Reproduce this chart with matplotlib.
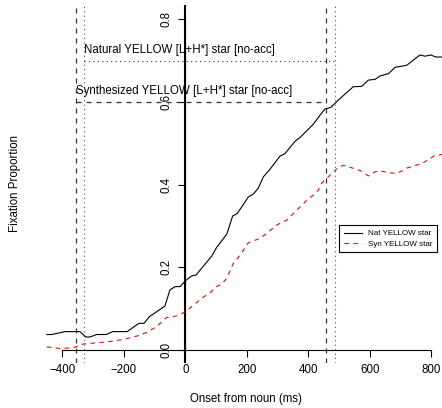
import matplotlib
matplotlib.use("Agg")
import matplotlib.pyplot as plt
from matplotlib.lines import Line2D

plt.rcParams['font.family'] = ['Liberation Sans', 'DejaVu Sans']

# ---- data ----
nat_x = [-450, -434, -391, -342, -324, -310, -288, -256, -236, -189, -151, -134, -117,
         -66, -50, -33, -17, 0, 21, 35, 86, 102, 135, 154, 169, 205, 221, 237, 254, 273,
         308, 324, 357, 373, 416, 438, 454, 473, 498, 546, 574, 595, 617, 633, 661, 682,
         720, 763, 780, 798, 815, 850]
nat_y = [.037, .037, .044, .044, .031, .031, .037, .037, .044, .044, .064, .064, .080,
         .106, .145, .153, .153, .167, .179, .181, .227, .248, .280, .324, .330, .370, .377,
         .391, .419, .435, .469, .475, .505, .514, .546, .568, .583, .587, .605, .637, .638,
         .653, .655, .663, .669, .684, .689, .714, .711, .714, .709, .709]

syn_x = [-450, -407, -364, -332, -256, -202, -158, -126, -93, -61, -39, -17, 4, 59, 80, 97,
         118, 135, 156, 178, 205, 243, 265, 297, 330, 362, 395, 417, 433, 443, 460, 476,
         494, 514, 536, 557, 579, 595, 617, 636, 660, 688, 704, 720, 747, 769, 790, 812, 850]
syn_y = [.007, .003, .005, .014, .019, .025, .033, .042, .056, .078, .080, .085, .094, .128,
         .137, .151, .159, .173, .209, .229, .259, .270, .282, .302, .314, .338, .362, .375,
         .387, .403, .415, .427, .439, .447, .442, .437, .431, .421, .431, .433, .429, .427,
         .433, .440, .446, .451, .460, .471, .474]

series_labels = ["Nat YELLOW star", "Syn YELLOW star"]

# reference marks (onset/offset windows and target levels)
nat_window = [-329, 488]
syn_window = [-355, 457]
nat_level = 0.70
syn_level = 0.60
nat_text = "Natural YELLOW [L+H*] star [no-acc]"
syn_text = "Synthesized YELLOW [L+H*] star [no-acc]"

xticks = [-400, -200, 0, 200, 400, 600, 800]
yticks = [0.0, 0.2, 0.4, 0.6, 0.8]

# ---- figure ----
W, H = 442, 408
fig = plt.figure(figsize=(W / 100, H / 100), dpi=100)
left_px, right_px, top_px, bot_px = 31.5, 446.7, 5.0, 363.0
ax = fig.add_axes([left_px / W, 1 - bot_px / H, (right_px - left_px) / W, (bot_px - top_px) / H])
ax.set_xlim(-500, 850)
ax.set_ylim(-0.032, 0.835)
ax.patch.set_alpha(0)

fs = 8.3
ax.spines['top'].set_visible(False)
ax.spines['right'].set_visible(False)
ax.spines['bottom'].set_position(('data', 0))
ax.spines['bottom'].set_bounds(xticks[0], xticks[-1])
ax.spines['left'].set_position(('data', 0))
ax.spines['left'].set_bounds(yticks[0], yticks[-1])
for s in ('bottom', 'left'):
    ax.spines[s].set_linewidth(0.8)

ax.set_xticks(xticks)
ax.set_xticklabels([f"{t:d}".replace('-', '\u2212') for t in xticks], fontsize=fs)
ax.set_yticks(yticks)
ax.set_yticklabels([f"{t:.1f}" for t in yticks], fontsize=fs, rotation=90, va='center')
ax.tick_params(axis='x', direction='out', length=5, width=0.8, pad=5.5)
ax.tick_params(axis='y', direction='out', length=5, width=0.8, pad=4.5)

# vertical reference lines
ax.axvline(0, color='black', lw=1.5)
ax.axvline(syn_window[0], color='#333333', lw=0.9, ls=(0, (4, 4)))
ax.axvline(syn_window[1], color='#333333', lw=0.9, ls=(0, (4, 4)))
ax.axvline(nat_window[0], color='#555555', lw=0.8, ls=(0, (1, 3)))
ax.axvline(nat_window[1], color='#555555', lw=0.8, ls=(0, (1, 3)))

# horizontal target lines
ax.plot(nat_window, [nat_level, nat_level], color='#333333', lw=0.8, ls=(0, (1, 3)))
ax.plot(syn_window, [syn_level, syn_level], color='#333333', lw=0.9, ls=(0, (4, 4)))
ax.text(nat_window[0], nat_level + 0.026, nat_text, fontsize=fs, ha='left', va='center')
ax.text(syn_window[0], syn_level + 0.026, syn_text, fontsize=fs, ha='left', va='center')

# data lines
ax.plot(nat_x, nat_y, color='black', lw=0.8, clip_on=True)
ax.plot(syn_x, syn_y, color='red', lw=0.8, ls=(0, (4, 4)), clip_on=True)

handles = [Line2D([], [], color='black', lw=0.8),
           Line2D([], [], color='red', lw=0.8, ls=(0, (4, 4)))]
leg = ax.legend(handles, series_labels, fontsize=5.8, loc='upper left',
                bbox_to_anchor=(339 / W, 1 - 225 / H), bbox_transform=fig.transFigure,
                frameon=True, fancybox=False, edgecolor='black', framealpha=1,
                handlelength=2.2, handletextpad=0.8, borderpad=0.6, labelspacing=0.3,
                borderaxespad=0)
leg.get_frame().set_linewidth(0.8)

fig.text(246 / W, 1 - 399 / H, "Onset from noun (ms)", fontsize=fs, ha='center', va='center')
fig.text(15 / W, 1 - 184 / H, "Fixation Proportion", fontsize=fs, ha='center', va='center',
         rotation=90)

fig.savefig("out.png", dpi=100)
